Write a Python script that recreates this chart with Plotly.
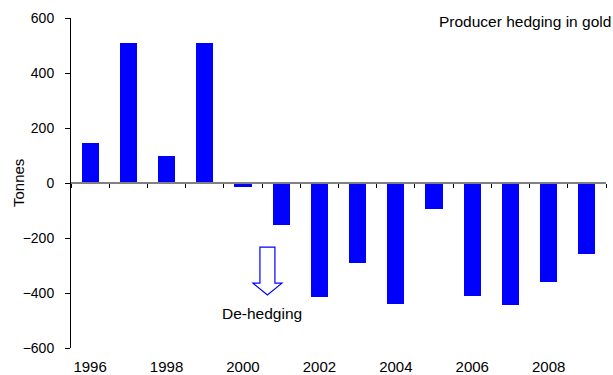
import plotly.graph_objects as go

# Net change in producer hedge book, tonnes of gold
years = [1996, 1997, 1998, 1999, 2000, 2001, 2002, 2003, 2004, 2005, 2006, 2007, 2008, 2009]
hedging = [147, 508, 100, 510, -16, -153, -413, -292, -441, -93, -411, -445, -360, -259]

year_labels = [1996, 1998, 2000, 2002, 2004, 2006, 2008]
y_ticks = [-600, -400, -200, 0, 200, 400, 600]

title_text = "Producer hedging in gold"
arrow_text = "De-hedging"
y_title = "Tonnes"

FONT = "Liberation Sans, Arial, sans-serif"
BLUE = "#0000FF"

x_lo, x_hi = years[0] - 0.5, years[-1] + 0.5
boundaries = [y + 0.5 for y in range(years[0] - 1, years[-1] + 1)]

fig = go.Figure()
fig.add_trace(go.Bar(
    x=years, y=hedging, width=0.45,
    marker=dict(color=BLUE, line=dict(width=0)),
    hoverinfo="x+y", showlegend=False,
))
# Invisible trace so the zero-line axis is rendered
fig.add_trace(go.Scatter(x=[x_lo], y=[0], xaxis="x2", mode="markers",
                         marker=dict(opacity=0), showlegend=False, hoverinfo="skip"))

# Hollow down arrow (data coordinates)
ax_c, shaft_hw, head_hw = 2000.64, 0.196, 0.38
y_top, y_head, y_tip = -233, -364, -407
arrow_path = (
    f"M {ax_c - shaft_hw},{y_top} L {ax_c + shaft_hw},{y_top} "
    f"L {ax_c + shaft_hw},{y_head} L {ax_c + head_hw},{y_head} "
    f"L {ax_c},{y_tip} L {ax_c - head_hw},{y_head} "
    f"L {ax_c - shaft_hw},{y_head} Z"
)
fig.add_shape(type="path", path=arrow_path, xref="x", yref="y",
              line=dict(color=BLUE, width=1.2), fillcolor="rgba(0,0,0,0)")

fig.add_annotation(x=2000.49, y=-473, xref="x", yref="y", text=arrow_text,
                   showarrow=False, font=dict(family=FONT, size=15.5, color="#000"))
fig.add_annotation(x=1, y=1, xref="paper", yref="paper", text=title_text,
                   xanchor="right", yanchor="middle", xshift=7, yshift=-3,
                   showarrow=False, font=dict(family=FONT, size=15.5, color="#000"))
# Vertical axis title
fig.add_annotation(x=0, y=0.5, xref="paper", yref="paper", text=y_title,
                   textangle=-90, xanchor="center", yanchor="middle", xshift=-53,
                   showarrow=False, font=dict(family=FONT, size=15, color="#000"))

fig.update_layout(
    width=613, height=375,
    margin=dict(l=71, r=7, t=18, b=27),
    paper_bgcolor="white", plot_bgcolor="white",
    font=dict(family=FONT, size=14, color="#000"),
    bargap=0,
    xaxis=dict(
        range=[x_lo, x_hi], tickmode="array", tickvals=year_labels,
        ticktext=[str(v) for v in year_labels],
        showline=False, ticks="", showgrid=False, zeroline=False,
        ticklabelstandoff=8, automargin=False,
        tickfont=dict(family=FONT, size=15, color="#000"),
    ),
    xaxis2=dict(
        overlaying="x", anchor="free", position=0.5, side="bottom",
        range=[x_lo, x_hi], tickmode="array", tickvals=boundaries,
        showticklabels=False, showline=True, linecolor="#808080", linewidth=1.5,
        ticks="outside", ticklen=4, tickcolor="#000", tickwidth=1,
        showgrid=False, zeroline=False, automargin=False,
    ),
    yaxis=dict(
        range=[-600, 600], tickmode="array", tickvals=y_ticks,
        showline=True, linecolor="#000", linewidth=1,
        ticks="outside", ticklen=5, tickcolor="#000",
        showgrid=False, zeroline=False,
        ticklabelstandoff=8, automargin=False,
        tickfont=dict(family=FONT, size=14, color="#000"),
    ),
)

fig.write_html("out.html")
